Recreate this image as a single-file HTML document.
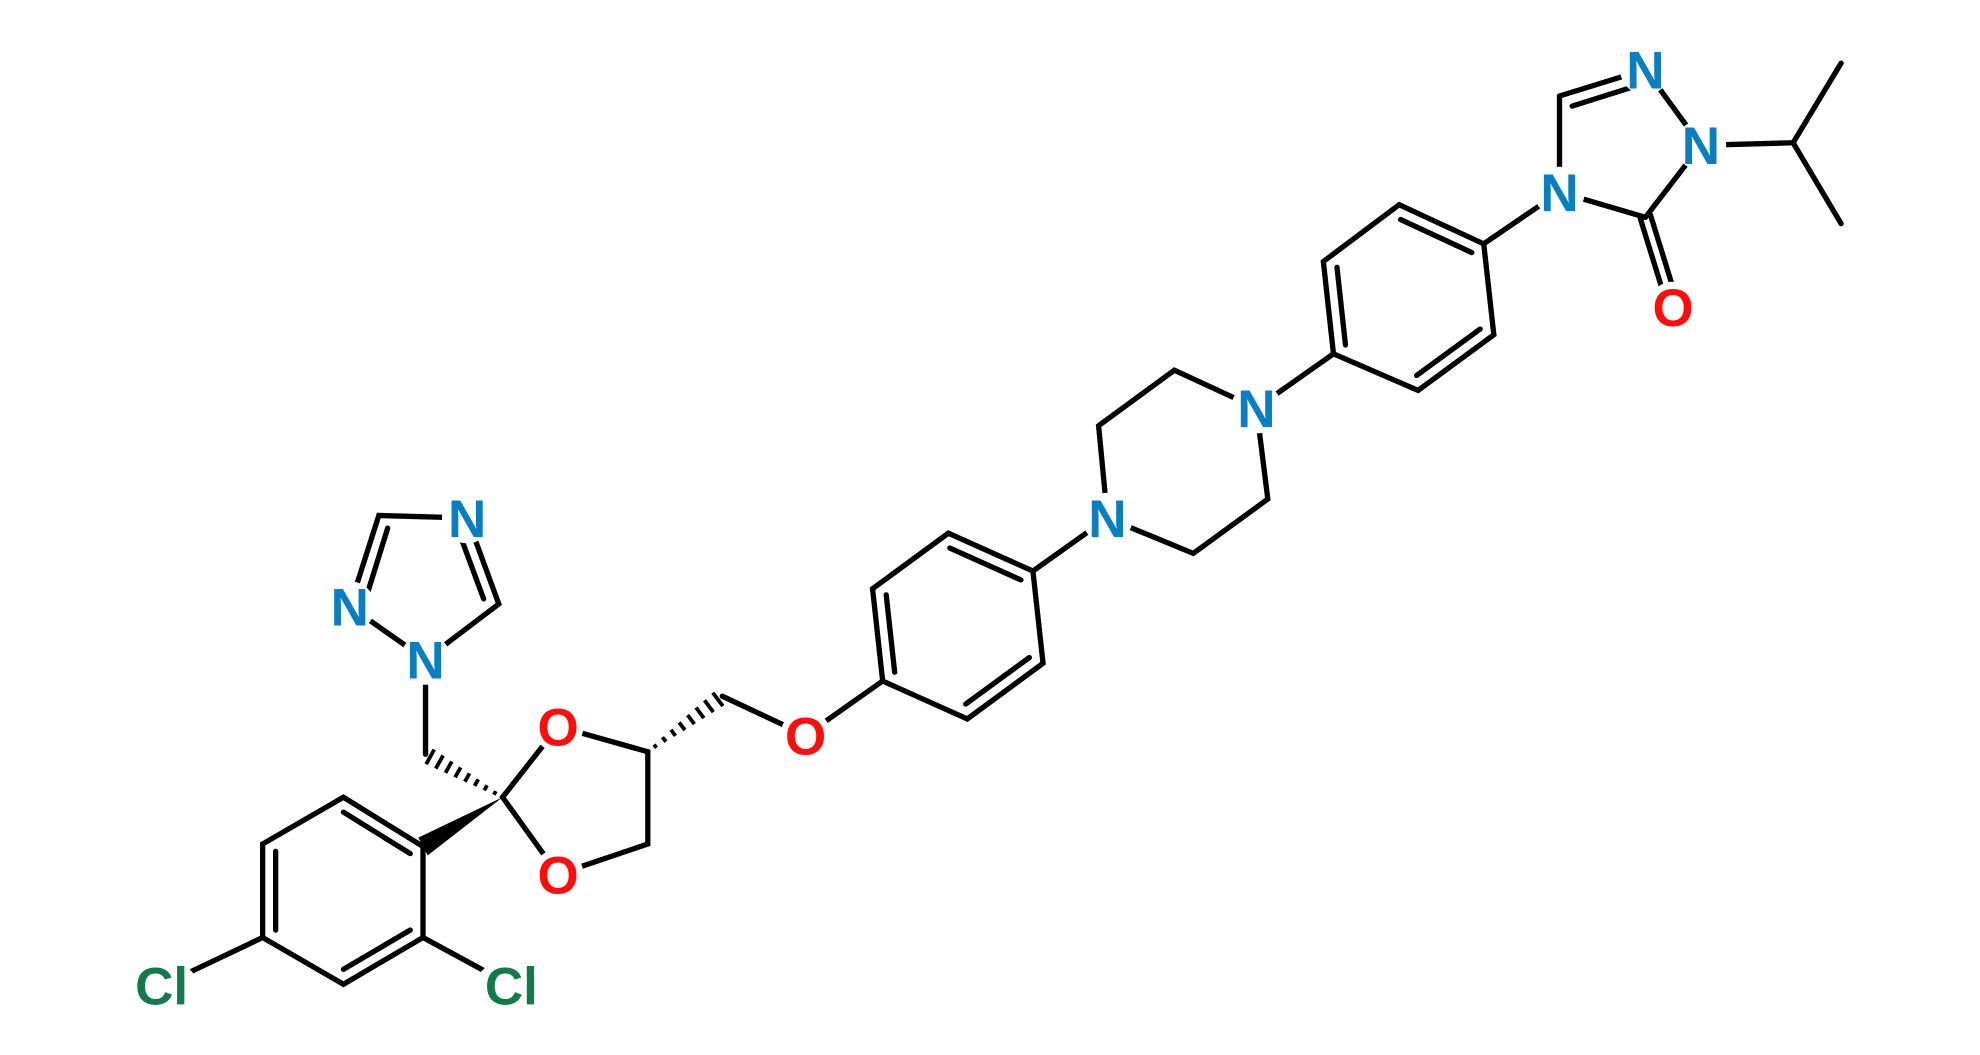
<!DOCTYPE html>
<html><head><meta charset="utf-8"><style>html,body{margin:0;padding:0;background:#fff}svg{display:block}</style></head>
<body>
<svg width="1980" height="1055" viewBox="0 0 1568 835" preserveAspectRatio="none" xmlns="http://www.w3.org/2000/svg">
<g stroke="#000" stroke-width="4.2" stroke-linecap="round" fill="none">
<line x1="1303" y1="55" x2="1347" y2="115"/>
<line x1="1347" y1="115" x2="1303" y2="172"/>
<line x1="1303" y1="172" x2="1235" y2="152"/>
<line x1="1235" y1="152" x2="1235" y2="76"/>
<line x1="1235" y1="76" x2="1303" y2="55"/>
<line x1="1245" y1="84" x2="1299" y2="67"/>
<line x1="1347" y1="115" x2="1420" y2="113"/>
<line x1="1420" y1="113" x2="1458" y2="50"/>
<line x1="1420" y1="113" x2="1458" y2="177"/>
<line x1="1299" y1="173" x2="1321" y2="244"/>
<line x1="1307" y1="170" x2="1329" y2="241"/>
<line x1="1235" y1="152" x2="1175" y2="193"/>
<polygon points="1175,193 1108,162 1048,207 1056,280 1123,309 1183,265"/>
<line x1="1109.2" y1="173.8" x2="1165.5" y2="199.9"/>
<line x1="1058.8" y1="211.6" x2="1065.5" y2="273"/>
<line x1="1121.8" y1="297.2" x2="1172.2" y2="260.4"/>
<line x1="1056" y1="280" x2="995" y2="323"/>
<polygon points="995,323 930,293 870,337 877,410 945,438 1004,395"/>
<line x1="877" y1="410" x2="818" y2="452"/>
<polygon points="818,452 751,422 691,466 699,539 766,569 826,525"/>
<line x1="752.2" y1="433.8" x2="808.5" y2="459"/>
<line x1="701.8" y1="470.8" x2="708.5" y2="532"/>
<line x1="764.8" y1="557.2" x2="815.2" y2="520.4"/>
<line x1="699" y1="539" x2="638" y2="582"/>
<line x1="638" y1="582" x2="572" y2="551"/>
<polygon points="513,595 513,668 442,692 398,631 442,575"/>
<line x1="337" y1="597" x2="337" y2="522"/>
<polygon points="337,522 395,478 370,410 300,408 277,480"/>
<line x1="307" y1="418" x2="289" y2="476"/>
<line x1="363" y1="420" x2="383" y2="474"/>
<polygon points="335,670 272,631 208,668 208,742 272,779 335,742"/>
<line x1="272" y1="642.8" x2="324.9" y2="675.6"/>
<line x1="218.3" y1="673.8" x2="218.3" y2="736.1"/>
<line x1="272" y1="767.2" x2="324.9" y2="736.1"/>
<line x1="208" y1="742" x2="128" y2="780"/>
<line x1="335" y1="742" x2="405" y2="780"/>
</g>
<g stroke="#000" stroke-width="3">
<line x1="392.7" y1="626.2" x2="391.1" y2="629"/>
<line x1="385.7" y1="621.5" x2="383.5" y2="625.5"/>
<line x1="378.8" y1="616.8" x2="375.8" y2="622"/>
<line x1="371.8" y1="612.1" x2="368.1" y2="618.7"/>
<line x1="364.8" y1="607.4" x2="360.4" y2="615.2"/>
<line x1="357.8" y1="602.7" x2="352.8" y2="611.7"/>
<line x1="350.9" y1="597.9" x2="345.1" y2="608.3"/>
<line x1="343.9" y1="593.2" x2="337.5" y2="604.8"/>
<line x1="519.9" y1="591.9" x2="517.9" y2="589.3"/>
<line x1="527.4" y1="587.1" x2="524.6" y2="583.5"/>
<line x1="534.9" y1="582.4" x2="531.3" y2="577.6"/>
<line x1="542.4" y1="577.8" x2="537.8" y2="571.8"/>
<line x1="549.9" y1="573.1" x2="544.5" y2="565.9"/>
<line x1="557.4" y1="568.4" x2="551.2" y2="560"/>
<line x1="564.9" y1="563.6" x2="557.9" y2="554.2"/>
<line x1="572.5" y1="558.9" x2="564.5" y2="548.3"/>
</g>
<polygon points="398,631 338.7,677 331.3,663" fill="#000"/>
<g fill="#fff">
<circle cx="1303" cy="55" r="20"/><circle cx="1347" cy="115" r="20"/><circle cx="1235" cy="152" r="20"/>
<circle cx="1325" cy="243" r="20"/><circle cx="995" cy="323" r="20"/><circle cx="877" cy="410" r="20"/>
<circle cx="638" cy="582" r="20"/><circle cx="442" cy="692" r="20"/><circle cx="442" cy="575" r="20"/>
<circle cx="337" cy="522" r="20"/><circle cx="370" cy="410" r="20"/><circle cx="277" cy="480" r="20"/>
<ellipse cx="128" cy="780" rx="28" ry="21"/><ellipse cx="405" cy="780" rx="28" ry="21"/>
</g>
<g font-family="Liberation Sans, sans-serif" font-weight="bold" font-size="42" text-anchor="middle">
<g fill="#0a7ec2">
<text x="1303" y="70">N</text><text x="1347" y="130">N</text><text x="1235" y="167">N</text>
<text x="995" y="338">N</text><text x="877" y="425">N</text>
<text x="337" y="537">N</text><text x="370" y="425">N</text><text x="277" y="495">N</text>
</g>
<g fill="#ff0d0d">
<text x="1325" y="258">O</text><text x="638" y="597">O</text><text x="442" y="707">O</text><text x="442" y="590">O</text>
</g>
<g fill="#127a4c">
<text x="128" y="795">Cl</text><text x="405" y="795">Cl</text>
</g>
</g>
</svg>
</body></html>
